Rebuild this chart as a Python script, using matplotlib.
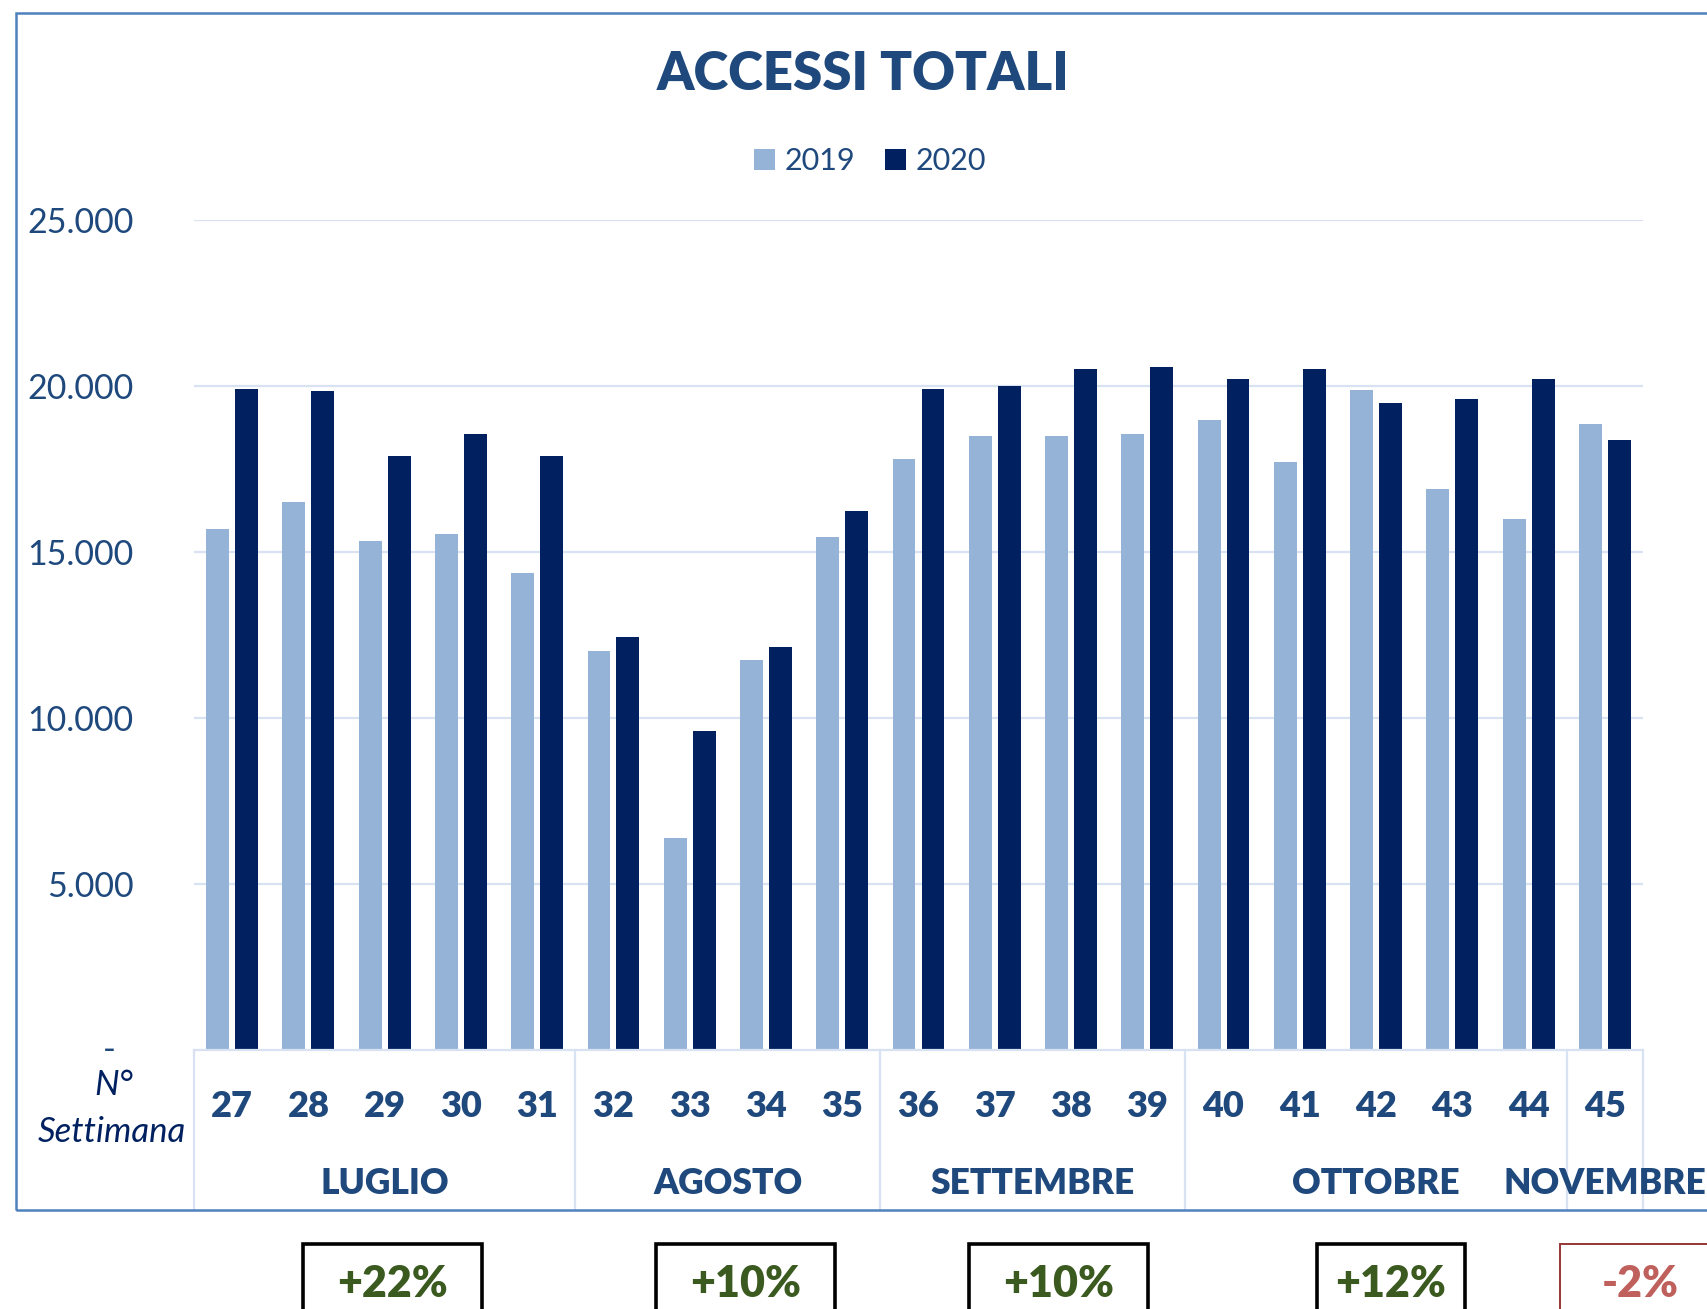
import numpy as np
import matplotlib
matplotlib.use('Agg')
import matplotlib.pyplot as plt
from matplotlib.patches import Rectangle
from matplotlib.transforms import blended_transform_factory

# dati
settimane = ['27', '28', '29', '30', '31', '32', '33', '34', '35', '36',
             '37', '38', '39', '40', '41', '42', '43', '44', '45']
accessi_2019 = [15700, 16500, 15330, 15550, 14380, 12030, 6380, 11740, 15460, 17790,
                18500, 18500, 18550, 18980, 17700, 19870, 16900, 16000, 18850]
accessi_2020 = [19900, 19850, 17900, 18550, 17880, 12430, 9600, 12130, 16250, 19900,
                20000, 20500, 20560, 20200, 20500, 19480, 19600, 20200, 18380]
mesi = ['LUGLIO', 'AGOSTO', 'SETTEMBRE', 'OTTOBRE', 'NOVEMBRE']
settimane_per_mese = [5, 4, 4, 5, 1]
variazioni = ['+22%', '+10%', '+10%', '+12%', '-2%']
y_ticks = [5000, 10000, 15000, 20000, 25000]
y_labels = ['5.000', '10.000', '15.000', '20.000', '25.000']

BLU_TESTO = '#1F497D'
NAVY = '#002060'
AZZURRO = '#95B3D7'
GRIGLIA = '#D9E2F3'
CORNICE = '#4F81BD'
PESO = 'heavy'

plt.rcParams['font.family'] = ['Lato', 'DejaVu Sans']

W, H = 1707, 1309
fig = plt.figure(figsize=(W / 100, H / 100), dpi=100)

# posizione area del grafico (pixel -> frazioni)
x0, x1, y_top, y_zero = 194, 1643, 220, 1050
ax = fig.add_axes([x0 / W, 1 - y_zero / H, (x1 - x0) / W, (y_zero - y_top) / H])

x = np.arange(len(settimane))
w = 0.30
b1 = ax.bar(x - 0.19, accessi_2019, w, color=AZZURRO, label='2019', zorder=3)
b2 = ax.bar(x + 0.19, accessi_2020, w, color=NAVY, label='2020', zorder=3)

ax.set_xlim(-0.5, len(settimane) - 0.5)
ax.set_ylim(0, 25000)
for s in ax.spines.values():
    s.set_visible(False)
ax.set_xticks([])
ax.set_yticks(y_ticks)
ax.set_yticklabels(y_labels, fontsize=24.5, color=BLU_TESTO)
ax.tick_params(axis='y', length=0, pad=43.5)
for t in y_ticks:
    ax.axhline(t, color=GRIGLIA, lw=1.6, zorder=1)

trans = blended_transform_factory(ax.transData, ax.transAxes)
y_fondo = -(1210 - y_zero) / (y_zero - y_top)

# asse categorie a due livelli
ax.plot([-0.5, len(settimane) - 0.5], [0, 0], color=GRIGLIA, lw=1.6,
        transform=trans, clip_on=False, zorder=4)
inizio = 0
separatori = [-0.5]
for mese, n in zip(mesi, settimane_per_mese):
    centro = inizio + n / 2 - 0.5
    ax.text(centro, -0.1614, mese, transform=trans, ha='center', va='center',
            fontsize=25.5, fontweight=PESO, color=BLU_TESTO)
    inizio += n
    separatori.append(inizio - 0.5)
for s in separatori:
    ax.plot([s, s], [0, y_fondo], color=GRIGLIA, lw=1.6,
            transform=trans, clip_on=False)
for i, sett in enumerate(settimane):
    ax.text(i, -0.0675, sett, transform=trans, ha='center', va='center',
            fontsize=26, fontweight=PESO, color=BLU_TESTO)

ax.text((109 - x0) / (x1 - x0), 0, '-', transform=ax.transAxes, ha='center',
        va='center', fontsize=25, color=BLU_TESTO)
fig.text(114 / W, 1 - 1085 / H, 'N°', ha='center', va='center', fontsize=25,
         style='italic', color=NAVY)
fig.text(112 / W, 1 - 1132 / H, 'Settimana', ha='center', va='center', fontsize=25,
         style='italic', color=NAVY)

fig.text(863 / W, 1 - 74 / H, 'ACCESSI TOTALI', ha='center', va='center',
         fontsize=38, fontweight=PESO, color=BLU_TESTO)

leg = fig.legend(handles=[b1, b2], loc='center', bbox_to_anchor=(870 / W, 1 - 161 / H),
                 ncol=2, frameon=False, fontsize=22, handlelength=0.69, handleheight=0.69,
                 handletextpad=0.33, columnspacing=0.95)
for t in leg.get_texts():
    t.set_color(BLU_TESTO)

# cornice del grafico
fig.patches.append(Rectangle((16 / W, 1 - 1210 / H), 1.1, (1210 - 13) / H,
                             transform=fig.transFigure, fill=False,
                             edgecolor=CORNICE, lw=1.8, zorder=0))

# riquadri variazioni
box_x = [(303, 482), (656, 835), (969, 1148), (1317, 1465), (1560, 1720)]
for (a, b), testo in zip(box_x, variazioni):
    negativo = testo.startswith('-')
    fig.patches.append(Rectangle((a / W, -0.05), (b - a) / W, 0.05 + 1 - 1244 / H,
                                 transform=fig.transFigure, fill=False,
                                 edgecolor='#953735' if negativo else 'black',
                                 lw=1.4 if negativo else 2.6))
    fig.text((a + b) / 2 / W, 1 - 1284 / H, testo, ha='center', va='center',
             fontsize=31, fontweight=PESO,
             color='#C0605C' if negativo else '#3A5A1F')

fig.savefig('out.png', dpi=100)
